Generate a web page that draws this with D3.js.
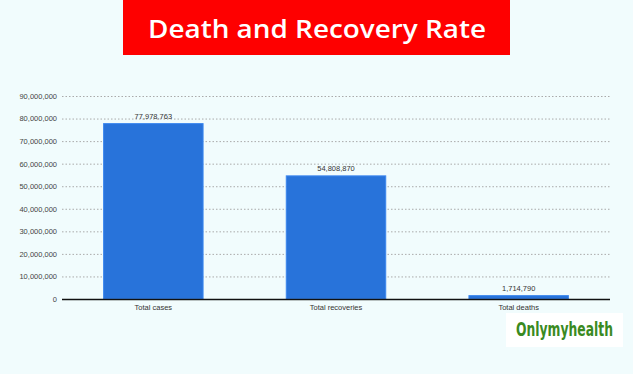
<!DOCTYPE html>
<meta charset="utf-8">
<head>
  <title>Death and Recovery Rate</title>
</head>
<style>
  body { margin: 0; background: #f1fcfd; }
  svg { display: block; }
  .tick text { font-family: Arial, "Liberation Sans", sans-serif; font-size: 7.5px; fill: #444; }
</style>
<body>
<svg width="633" height="374"></svg>
<script src="https://cdn.jsdelivr.net/npm/d3@7/dist/d3.min.js"></script>
<script>

var categories = ["Total cases", "Total recoveries", "Total deaths"];
var values = [77978763, 54808870, 1714790];
var yTicks = [0, 10000000, 20000000, 30000000, 40000000, 50000000, 60000000, 70000000, 80000000, 90000000];

var svg = d3.select("svg");
var fmt = d3.format(",");

svg.append("rect").attr("width", 633).attr("height", 374).attr("fill", "#f1fcfd");

// title banner
svg.append("rect").attr("x", 123).attr("y", 0).attr("width", 387).attr("height", 55).attr("fill", "#fe0000");
svg.append("text")
  .attr("x", 317).attr("y", 38)
  .attr("text-anchor", "middle")
  .attr("textLength", 338)
  .attr("lengthAdjust", "spacingAndGlyphs")
  .style("font-family", "'Open Sans', sans-serif")
  .style("font-size", "26px")
  .style("font-weight", 600)
  .style("fill", "#fff")
  .text("Death and Recovery Rate");

var x = d3.scaleBand().domain(categories).range([62, 610]).paddingInner(0.45).paddingOuter(0.225);
var y = d3.scaleLinear().domain([0, 90000000]).range([299, 96]);

// grid
svg.append("g").selectAll("line")
  .data(yTicks.slice(1))
  .enter().append("line")
  .attr("x1", 62).attr("x2", 610)
  .attr("y1", function(d) { return y(d) + 0.5; })
  .attr("y2", function(d) { return y(d) + 0.5; })
  .attr("stroke", "#aaa")
  .attr("stroke-dasharray", "1.5,2");

var yAxis = svg.append("g")
  .attr("transform", "translate(62,0)")
  .call(d3.axisLeft(y).tickValues(yTicks).tickFormat(fmt).tickSize(0).tickPadding(5));
yAxis.select(".domain").remove();

// bars
svg.append("g").selectAll("rect")
  .data(values)
  .enter().append("rect")
  .attr("x", function(d, i) { return x(categories[i]) + 0.5; })
  .attr("y", function(d) { return y(d) + 0.5; })
  .attr("width", x.bandwidth() - 1)
  .attr("height", function(d) { return y(0) - y(d) - 0.5; })
  .attr("fill", "#2873da")
  .attr("stroke", "#3b87ef")
  .attr("stroke-width", 1);

// value labels
svg.append("g").selectAll("text")
  .data(values)
  .enter().append("text")
  .attr("x", function(d, i) { return x(categories[i]) + x.bandwidth() / 2; })
  .attr("y", function(d) { return y(d) - 4; })
  .attr("text-anchor", "middle")
  .style("font-family", "Arial, 'Liberation Sans', sans-serif")
  .style("font-size", "7.5px")
  .style("fill", "#333")
  .text(function(d) { return fmt(d); });

// baseline
svg.append("line")
  .attr("x1", 62).attr("x2", 610)
  .attr("y1", y(0) + 0.5).attr("y2", y(0) + 0.5)
  .attr("stroke", "#111").attr("stroke-width", 1.3);

// category labels
var xAxis = svg.append("g")
  .attr("transform", "translate(0," + y(0) + ")")
  .call(d3.axisBottom(x).tickSize(0).tickPadding(6));
xAxis.select(".domain").remove();
xAxis.selectAll("text").style("fill", "#333");

// logo
svg.append("rect").attr("x", 506).attr("y", 313).attr("width", 117).attr("height", 34).attr("fill", "#fff");
svg.append("text")
  .attr("transform", "translate(564.5,336) scale(1,1.3)")
  .attr("text-anchor", "middle")
  .attr("textLength", 97)
  .attr("lengthAdjust", "spacingAndGlyphs")
  .style("font-family", "'DejaVu Sans Condensed', 'DejaVu Sans', sans-serif")
  .style("font-size", "14.5px")
  .style("font-weight", "bold")
  .style("fill", "#3a8a1f")
  .text("Onlymyhealth");
</script>
</body>
</html>
